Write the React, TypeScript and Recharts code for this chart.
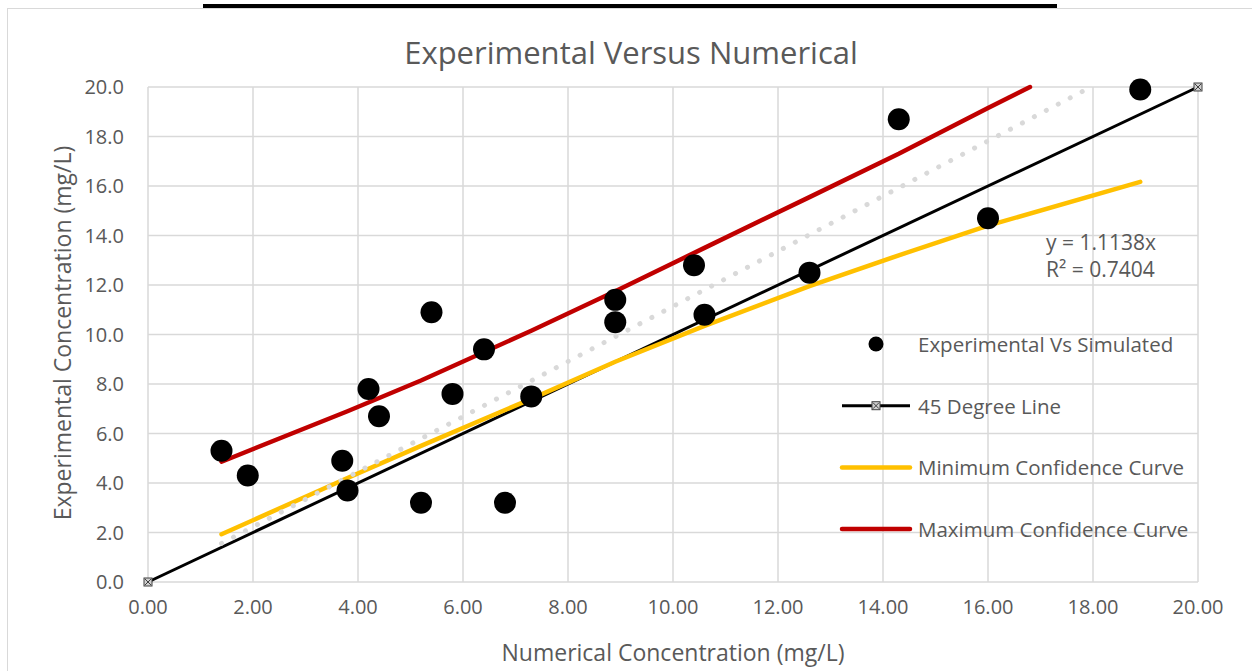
import { ComposedChart, Line, Scatter, XAxis, YAxis, CartesianGrid } from "recharts";

// measured points (numerical x, experimental y)
const numerical = [1.4, 1.9, 3.7, 3.8, 4.2, 4.4, 5.2, 5.4, 5.8, 6.4, 6.8, 7.3, 8.9, 8.9, 10.4, 10.6, 12.6, 14.3, 16.0, 18.9];
const experimental = [5.3, 4.3, 4.9, 3.7, 7.8, 6.7, 3.2, 10.9, 7.6, 9.4, 3.2, 7.5, 11.4, 10.5, 12.8, 10.8, 12.5, 18.7, 14.7, 19.9];

// confidence curves (max curve leaves the plot at the top)
const minX = [1.4, 3.8, 5.2, 7.3, 8.9, 10.6, 12.6, 14.3, 16.0, 18.9];
const minCurve = [1.93, 4.2, 5.5, 7.4, 8.9, 10.35, 11.95, 13.2, 14.4, 16.17];
const maxX = [1.4, 3.8, 5.2, 7.3, 8.9, 10.6, 12.6, 14.3, 16.0, 16.8];
const maxCurve = [4.86, 6.9, 8.14, 10.15, 11.75, 13.5, 15.55, 17.3, 19.15, 20.0];

// 45 degree reference + linear trendline (y = 1.1138x) endpoints
const lineX = [0, 20];
const lineY = [0, 20];
const trendX = [1.4, 17.96];
const trendY = [1.56, 20.0];

const ticks = [0, 2, 4, 6, 8, 10, 12, 14, 16, 18, 20];

const toRows = (xs: number[], ys: number[]) => xs.map((x, i) => ({ x, y: ys[i] }));

const points = toRows(numerical, experimental);
const minData = toRows(minX, minCurve);
const maxData = toRows(maxX, maxCurve);
const lineData = toRows(lineX, lineY);
const trendData = toRows(trendX, trendY);

const TEXT = "#595959";
const GRID = "#D9D9D9";
const FONT = "'Open Sans', sans-serif";

const BigDot = (props: any) => {
    if (props.cx == null || props.cy == null) return null;
    return <circle cx={props.cx} cy={props.cy} r={11} fill="#000" />;
};

const XMarker = (props: any) => {
    const { cx, cy } = props;
    if (cx == null || cy == null) return null;
    return (
        <g key={props.key}>
            <rect x={cx - 4} y={cy - 4} width={8} height={8} fill="#D0D0D0" stroke="#404040" strokeWidth={1} />
            <path d={`M${cx - 3} ${cy - 3} L${cx + 3} ${cy + 3} M${cx + 3} ${cy - 3} L${cx - 3} ${cy + 3}`} stroke="#404040" strokeWidth={1} />
        </g>
    );
};

const legendItems = [
    { label: "Experimental Vs Simulated", kind: "dot", color: "#000" },
    { label: "45 Degree Line", kind: "marker", color: "#000" },
    { label: "Minimum Confidence Curve", kind: "line", color: "#FFC000" },
    { label: "Maximum Confidence Curve", kind: "line", color: "#C00000" },
];

export default function App() {
    return (
        <div style={{ position: "absolute", left: 0, top: 0, width: 1252, height: 671, overflow: "hidden", background: "#fff", fontFamily: FONT }}>
            <div style={{ position: "absolute", left: 7, top: 8, width: 1300, height: 700, border: `1.5px solid ${GRID}` }} />
            <div style={{ position: "absolute", left: 203, top: 4, width: 854, height: 4, background: "#000" }} />

            <div style={{ position: "absolute", left: 0, top: 0 }}>
                <ComposedChart width={1252} height={671} margin={{ top: 87, right: 54, bottom: 0, left: 0 }}>
                    <CartesianGrid stroke={GRID} strokeWidth={1.5} horizontalValues={ticks} verticalValues={ticks} />
                    <XAxis
                        type="number"
                        dataKey="x"
                        domain={[0, 20]}
                        ticks={ticks}
                        tickFormatter={(v: number) => v.toFixed(2)}
                        axisLine={false}
                        tickLine={false}
                        tickMargin={12}
                        height={89}
                        tick={{ fill: TEXT, fontSize: 20, fontFamily: FONT }}
                    />
                    <YAxis
                        type="number"
                        dataKey="y"
                        domain={[0, 20]}
                        ticks={ticks}
                        tickFormatter={(v: number) => v.toFixed(1)}
                        axisLine={false}
                        tickLine={false}
                        tickMargin={18}
                        width={148}
                        tick={{ fill: TEXT, fontSize: 20, fontFamily: FONT }}
                    />
                    <Scatter data={points} dataKey="y" fill="#000" shape={BigDot} isAnimationActive={false} />
                    <Line data={lineData} dataKey="y" type="linear" stroke="#000" strokeWidth={3} dot={XMarker} activeDot={false} isAnimationActive={false} />
                    <Line data={minData} dataKey="y" type="linear" stroke="#FFC000" strokeWidth={4.5} strokeLinecap="round" dot={false} activeDot={false} isAnimationActive={false} />
                    <Line data={maxData} dataKey="y" type="linear" stroke="#C00000" strokeWidth={4.5} strokeLinecap="round" dot={false} activeDot={false} isAnimationActive={false} />
                    <Line data={trendData} dataKey="y" type="linear" stroke={GRID} strokeWidth={5} strokeDasharray="0.1 13.4" strokeLinecap="round" dot={false} activeDot={false} isAnimationActive={false} />
                </ComposedChart>
            </div>

            <div style={{ position: "absolute", left: 0, width: 1262, top: 32, textAlign: "center", fontSize: 31, color: TEXT, lineHeight: "40px" }}>
                Experimental Versus Numerical
            </div>
            <div style={{ position: "absolute", left: 148, width: 1050, top: 637, textAlign: "center", fontSize: 23, color: TEXT, lineHeight: "30px" }}>
                Numerical Concentration (mg/L)
            </div>
            <div style={{ position: "absolute", left: 62 - 250, top: 333 - 15, width: 500, textAlign: "center", fontSize: 23, color: TEXT, lineHeight: "30px", transform: "rotate(-90deg)" }}>
                Experimental Concentration (mg/L)
            </div>

            <div style={{ position: "absolute", left: 1046, top: 229, fontSize: 21, color: TEXT, lineHeight: "27px" }}>
                <div>y = 1.1138x</div>
                <div>R² = 0.7404</div>
            </div>

            <svg style={{ position: "absolute", left: 0, top: 0 }} width={1252} height={671}>
                {legendItems.map((item, i) => {
                    const cy = 344 + i * 61.7;
                    return (
                        <g key={item.label}>
                            {item.kind === "dot" && <circle cx={876} cy={cy} r={7.5} fill="#000" />}
                            {item.kind === "marker" && (
                                <>
                                    <line x1={842} x2={910} y1={cy} y2={cy} stroke="#000" strokeWidth={3} />
                                    <XMarker cx={876} cy={cy} />
                                </>
                            )}
                            {item.kind === "line" && (
                                <line x1={842} x2={910} y1={cy} y2={cy} stroke={item.color} strokeWidth={4.5} strokeLinecap="round" />
                            )}
                            <text x={918} y={cy} dominantBaseline="central" fontSize={20.5} fill={TEXT} fontFamily={FONT}>
                                {item.label}
                            </text>
                        </g>
                    );
                })}
            </svg>
        </div>
    );
}
